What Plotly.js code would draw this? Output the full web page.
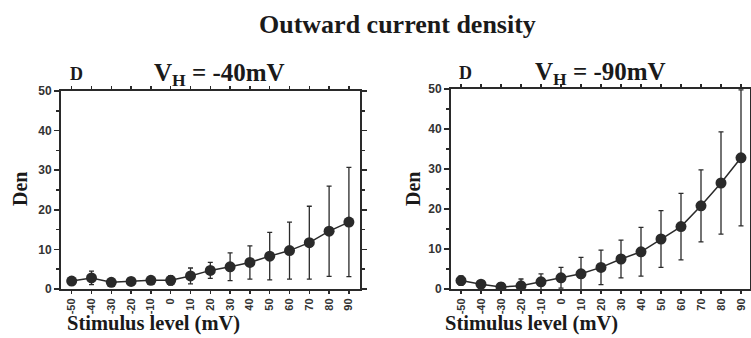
<!DOCTYPE html>
<html><head><meta charset="utf-8">
<script src="https://cdn.plot.ly/plotly-3.0.1.min.js"></script>
<style>html,body{margin:0;padding:0;background:#fff}</style>
</head><body>
<div id="chart" style="width:751px;height:338px"></div>
<script>
var stimulus = ['-50','-40','-30','-20','-10','0','10','20','30','40','50','60','70','80','90'];
var den40 = [2.0, 2.8, 1.7, 1.9, 2.2, 2.2, 3.3, 4.7, 5.6, 6.7, 8.3, 9.7, 11.7, 14.6, 16.9];
var err40 = [0.4, 1.7, 0.4, 0.4, 0.5, 1.2, 2.0, 2.0, 3.5, 4.2, 6.0, 7.2, 9.2, 11.4, 13.8];
var den90 = [2.1, 1.2, 0.5, 0.8, 1.8, 2.8, 3.8, 5.4, 7.5, 9.3, 12.5, 15.6, 20.8, 26.5, 32.8];
var err90 = [1.2, 0.5, 1.1, 1.7, 2.0, 2.6, 4.1, 4.3, 4.7, 6.1, 7.1, 8.3, 9.0, 12.8, 17.0];
var panelTitles = ['V<sub>H</sub> = -40mV', 'V<sub>H</sub> = -90mV'];

var W = 751, H = 338;
function px(x){return x/W;}
function py(y){return 1 - y/H;}
var dark = '#2a2a2a';

function trace(y, e, xa, ya){
  return {x: stimulus, y: y, xaxis: xa, yaxis: ya, type: 'scatter', mode: 'lines+markers',
    line: {color: dark, width: 1.5},
    marker: {color: dark, size: 11, symbol: 'circle'},
    error_y: {type: 'data', array: e, visible: true, color: dark, thickness: 1.3, width: 2.5},
    cliponaxis: true, showlegend: false};
}

function xax(dom, rng, anchor){
  return {domain: dom, anchor: anchor, type: 'category', range: rng,
    showline: true, linecolor: dark, linewidth: 2, mirror: 'ticks',
    ticks: 'outside', ticklen: 3, tickwidth: 1.5, tickcolor: dark,
    tickangle: -90, tickfont: {family: 'Liberation Sans, Arial', size: 11, color: '#333', weight: 'bold'},
    showgrid: false, zeroline: false, fixedrange: true};
}
function yax(dom, anchor){
  return {domain: dom, anchor: anchor, range: [0, 50], dtick: 10,
    showline: true, linecolor: dark, linewidth: 2, mirror: 'ticks',
    ticks: 'outside', ticklen: 5, tickwidth: 1.5, tickcolor: dark,
    minor: {dtick: 5, ticks: 'outside', ticklen: 3, tickwidth: 1.5, tickcolor: dark, showgrid: false},
    tickfont: {family: 'Liberation Sans, Arial', size: 12, color: '#333', weight: 'bold'},
    showgrid: false, zeroline: false, fixedrange: true};
}

var serifBold = {family: 'Liberation Serif, Times New Roman, serif', color: '#1a1a1a', weight: 'bold'};
function ann(text, x, y, size, extra){
  var a = {text: text, x: px(x), y: py(y), xref: 'paper', yref: 'paper', showarrow: false,
    xanchor: 'center', yanchor: 'middle',
    font: Object.assign({}, serifBold, {size: size})};
  return Object.assign(a, extra || {});
}

var data = [trace(den40, err40, 'x', 'y'), trace(den90, err90, 'x2', 'y2')];
var layout = {
  width: W, height: H, margin: {l: 0, r: 0, t: 0, b: 0},
  paper_bgcolor: '#fff', plot_bgcolor: '#fff',
  xaxis: xax([px(61), px(360)], [-0.54, 14.56], 'y'),
  yaxis: yax([1 - 289/H, 1 - 91/H], 'x'),
  xaxis2: xax([px(451), px(750)], [-0.5, 14.45], 'y2'),
  yaxis2: yax([1 - 289/H, 1 - 89/H], 'x2'),
  annotations: [
    ann('Outward current density', 397, 24, 26),
    ann(panelTitles[0], 220, 74, 25),
    ann(panelTitles[1], 600, 73, 25),
    ann('D', 76, 74, 18),
    ann('D', 465, 73, 18),
    ann('Den', 20, 189, 20, {textangle: -90}),
    ann('Den', 413, 189, 20, {textangle: -90}),
    ann('Stimulus level (mV)', 153, 323, 20.5),
    ann('Stimulus level (mV)', 531, 323, 20.5)
  ]
};
Plotly.newPlot('chart', data, layout, {displayModeBar: false, staticPlot: true});
</script>
</body></html>
